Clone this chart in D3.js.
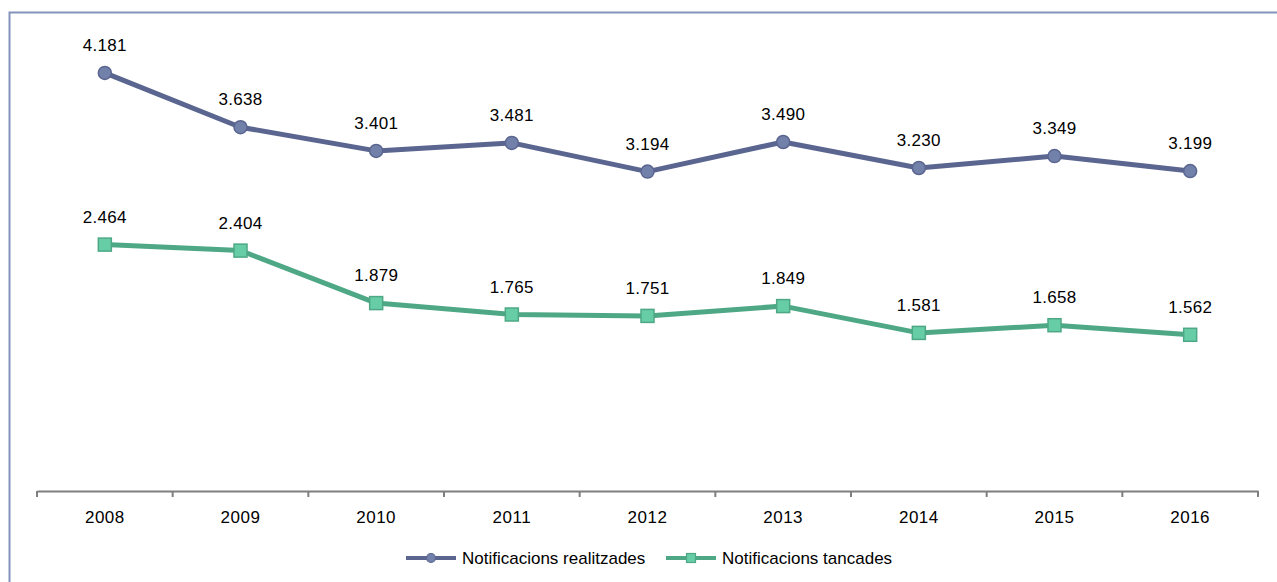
<!DOCTYPE html>
<html>
<head>
<meta charset="utf-8">
<script src="https://cdn.jsdelivr.net/npm/d3@7"></script>
<style>
  body { margin: 0; background: #fff; }
  svg { display: block; font-family: "Liberation Sans", Arial, sans-serif; }
</style>
</head>
<body>
<div id="chart"></div>
<script>
// data
const years = ["2008", "2009", "2010", "2011", "2012", "2013", "2014", "2015", "2016"];
const realitzades = [4181, 3638, 3401, 3481, 3194, 3490, 3230, 3349, 3199];
const tancades = [2464, 2404, 1879, 1765, 1751, 1849, 1581, 1658, 1562];
const seriesNames = ["Notificacions realitzades", "Notificacions tancades"];

const width = 1277, height = 582;
const margin = { top: 41, right: 19, bottom: 91, left: 37 };

const svg = d3.select("#chart").append("svg")
  .attr("width", width)
  .attr("height", height);

// frame
svg.append("path")
  .attr("d", `M9.5,${height} V12.5 H${width}`)
  .attr("fill", "none")
  .attr("stroke", "#8393bb")
  .attr("stroke-width", 2);

const x = d3.scaleBand().domain(years).range([margin.left, width - margin.right]);
const y = d3.scaleLinear().domain([0, 4500]).range([height - margin.bottom, margin.top]);

const fmt = (v) => d3.format(",")(v).replace(",", ".");

// x axis
const xAxis = d3.axisBottom(x).tickSize(0).tickPadding(20);
const gx = svg.append("g")
  .attr("transform", `translate(0,${height - margin.bottom})`)
  .call(xAxis);
gx.select(".domain").attr("stroke", "#7f7f7f").attr("stroke-width", 2);
gx.selectAll("text")
  .attr("font-size", 17)
  .attr("letter-spacing", 0.5)
  .attr("fill", "#000");
// tick marks at category borders
const borders = years.map((d) => x(d)).concat([x(years[years.length - 1]) + x.bandwidth()]);
gx.selectAll(".border")
  .data(borders)
  .enter()
  .append("line")
  .attr("x1", (d) => d)
  .attr("x2", (d) => d)
  .attr("y1", 0)
  .attr("y2", 6)
  .attr("stroke", "#7f7f7f")
  .attr("stroke-width", 2);

const cx = (d, i) => x(years[i]) + x.bandwidth() / 2;

const series = [
  { name: seriesNames[0], values: realitzades, line: "#5b6690", fill: "#7281a9", shape: "circle" },
  { name: seriesNames[1], values: tancades, line: "#4ea886", fill: "#67cda6", shape: "square" },
];

const line = d3.line().x((d, i) => cx(d, i)).y((d) => y(d));

series.forEach((s) => {
  svg.append("path")
    .datum(s.values)
    .attr("fill", "none")
    .attr("stroke", s.line)
    .attr("stroke-width", 5)
    .attr("stroke-linejoin", "round")
    .attr("d", line);

  if (s.shape === "circle") {
    svg.selectAll(null)
      .data(s.values)
      .enter()
      .append("circle")
      .attr("cx", cx)
      .attr("cy", (d) => y(d))
      .attr("r", 6.5)
      .attr("fill", s.fill)
      .attr("stroke", s.line)
      .attr("stroke-width", 1.5);
  } else {
    svg.selectAll(null)
      .data(s.values)
      .enter()
      .append("rect")
      .attr("x", (d, i) => cx(d, i) - 6.5)
      .attr("y", (d) => y(d) - 6.5)
      .attr("width", 13)
      .attr("height", 13)
      .attr("fill", s.fill)
      .attr("stroke", s.line)
      .attr("stroke-width", 1.5);
  }

  svg.selectAll(null)
    .data(s.values)
    .enter()
    .append("text")
    .attr("x", cx)
    .attr("y", (d) => y(d) - 22)
    .attr("text-anchor", "middle")
    .attr("font-size", 17)
    .attr("letter-spacing", 0.3)
    .attr("fill", "#000")
    .text((d) => fmt(d));
});

// legend
const legendX = [406, 666];
const legendY = 558;
series.forEach((s, i) => {
  const g = svg.append("g").attr("transform", `translate(${legendX[i]},${legendY})`);
  g.append("line")
    .attr("x1", 0).attr("x2", 50)
    .attr("stroke", s.line)
    .attr("stroke-width", 4);
  if (s.shape === "circle") {
    g.append("circle").attr("cx", 25).attr("r", 4.5)
      .attr("fill", s.fill).attr("stroke", s.line).attr("stroke-width", 1.2);
  } else {
    g.append("rect").attr("x", 20.5).attr("y", -4.5).attr("width", 9).attr("height", 9)
      .attr("fill", s.fill).attr("stroke", s.line).attr("stroke-width", 1.2);
  }
  g.append("text")
    .attr("x", 56)
    .attr("dy", "0.35em")
    .attr("font-size", 17)
    .attr("fill", "#000")
    .text(s.name);
});
</script>
</body>
</html>
